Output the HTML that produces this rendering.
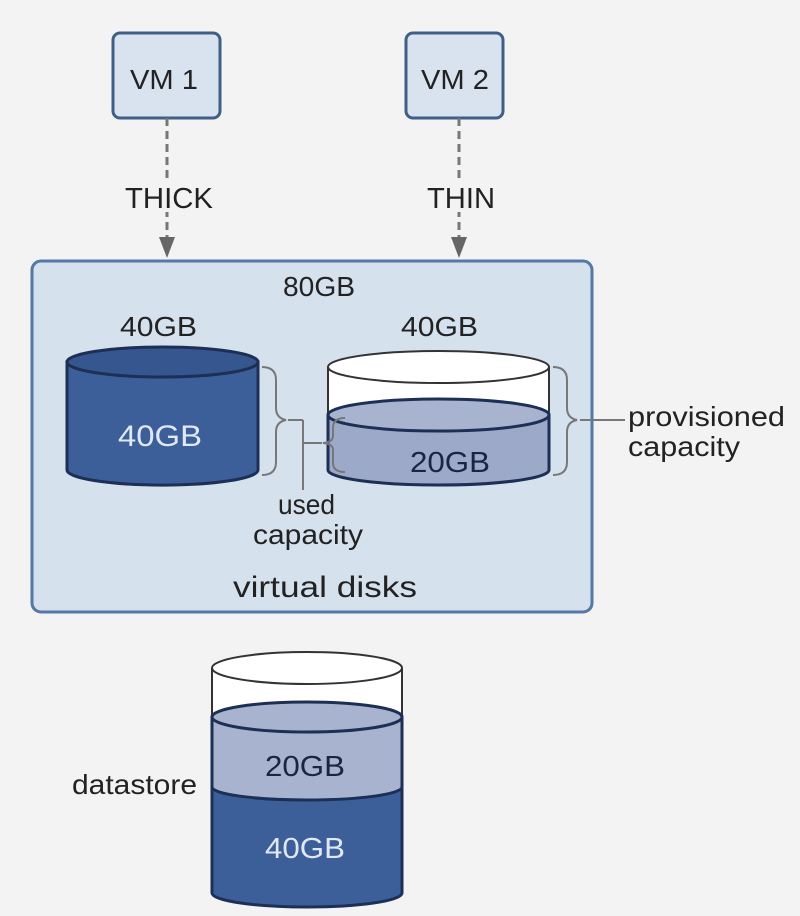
<!DOCTYPE html>
<html><head><style>html,body{margin:0;padding:0;background:#f3f3f3}svg{display:block}</style></head>
<body>
<svg width="800" height="916" viewBox="0 0 800 916" xmlns="http://www.w3.org/2000/svg" font-family="Liberation Sans, Arial, sans-serif">
<rect width="800" height="916" fill="#f3f3f3"/>
<rect x="113" y="33" width="107" height="85" rx="7" fill="#d9e3f0" stroke="#3f5f86" stroke-width="3"/>
<text x="130" y="89" font-size="28" textLength="68" lengthAdjust="spacingAndGlyphs" fill="#222">VM 1</text>
<rect x="406" y="33" width="97" height="85" rx="7" fill="#d9e3f0" stroke="#3f5f86" stroke-width="3"/>
<text x="421" y="89" font-size="28" textLength="68" lengthAdjust="spacingAndGlyphs" fill="#222">VM 2</text>
<g stroke="#777" stroke-width="3" stroke-dasharray="8,5">
<line x1="167" y1="118" x2="167" y2="248"/>
<line x1="459" y1="118" x2="459" y2="248"/>
</g>
<rect x="120" y="180" width="100" height="32" fill="#f3f3f3"/>
<rect x="420" y="180" width="80" height="32" fill="#f3f3f3"/>
<text x="125" y="208" font-size="29" textLength="88" lengthAdjust="spacingAndGlyphs" fill="#222">THICK</text>
<text x="427" y="208" font-size="29" textLength="68" lengthAdjust="spacingAndGlyphs" fill="#222">THIN</text>
<polygon points="159,237 175,237 167,258" fill="#666"/>
<polygon points="451,237 467,237 459,258" fill="#666"/>
<rect x="32" y="261" width="560" height="351" rx="9" fill="#d6e1ee" stroke="#5479a6" stroke-width="3"/>
<text x="283" y="296" font-size="28" textLength="72" lengthAdjust="spacingAndGlyphs" fill="#222">80GB</text>
<text x="120" y="336" font-size="28" textLength="77" lengthAdjust="spacingAndGlyphs" fill="#222">40GB</text>
<text x="401" y="336" font-size="28" textLength="77" lengthAdjust="spacingAndGlyphs" fill="#222">40GB</text>
<path d="M67,362 L67,470 A95,15 0 0 0 258,470 L258,362 Z" fill="#3d5f99" stroke="#1d2f55" stroke-width="3"/>
<ellipse cx="162.5" cy="362" rx="95.5" ry="15" fill="#35568f" stroke="#1d2f55" stroke-width="3"/>
<text x="118" y="446" font-size="30" textLength="84" lengthAdjust="spacingAndGlyphs" fill="#e0e8f5">40GB</text>
<path d="M328,367 L328,470 A110,15 0 0 0 549,470 L549,367" fill="#fff" stroke="#333" stroke-width="2"/>
<path d="M328,415 L328,470 A110.5,15 0 0 0 549,470 L549,415 Z" fill="#9ca9c8" stroke="#1d2f55" stroke-width="3"/>
<ellipse cx="438.5" cy="415" rx="110.5" ry="16" fill="#a8b3d0" stroke="#1d2f55" stroke-width="3"/>
<ellipse cx="438.5" cy="367" rx="110.5" ry="16" fill="#fff" stroke="#333" stroke-width="2"/>
<text x="410" y="472" font-size="29" textLength="80" lengthAdjust="spacingAndGlyphs" fill="#1a2540">20GB</text>
<g fill="none" stroke="#777" stroke-width="2">
<path d="M262,367 Q276,367 276,380 L276,408 Q276,418 286,420 Q276,422 276,432 L276,462 Q276,475 262,475"/>
<line x1="288" y1="420" x2="303" y2="420"/>
<line x1="303" y1="420" x2="303" y2="490"/>
<line x1="303" y1="443" x2="322" y2="443"/>
<path d="M345,418 Q333,418 333,428 L333,436 Q333,442 323,443 Q333,444 333,450 L333,463 Q333,472 345,472"/>
<path d="M553,367 Q567,367 567,380 L567,408 Q567,418 577,420 Q567,422 567,432 L567,462 Q567,475 553,475"/>
<line x1="580" y1="420" x2="625" y2="420"/>
</g>
<text x="278" y="514" font-size="28" textLength="57" lengthAdjust="spacingAndGlyphs" fill="#222">used</text>
<text x="253" y="544" font-size="28" textLength="110" lengthAdjust="spacingAndGlyphs" fill="#222">capacity</text>
<text x="233" y="597" font-size="30" textLength="184" lengthAdjust="spacingAndGlyphs" fill="#222">virtual disks</text>
<text x="628" y="426" font-size="28" textLength="157" lengthAdjust="spacingAndGlyphs" fill="#222">provisioned</text>
<text x="628" y="456" font-size="28" textLength="112" lengthAdjust="spacingAndGlyphs" fill="#222">capacity</text>
<text x="72" y="794" font-size="28" textLength="125" lengthAdjust="spacingAndGlyphs" fill="#222">datastore</text>
<path d="M212,668 L212,893 A95,14 0 0 0 402,893 L402,668" fill="#fff" stroke="#333" stroke-width="2"/>
<path d="M212,717 L212,893 A95,14 0 0 0 402,893 L402,717 Z" fill="#3d5f99" stroke="#1d2f55" stroke-width="3"/>
<path d="M212,717 L212,787 A95,13 0 0 0 402,787 L402,717 Z" fill="#a8b3d0"/>
<path d="M212,787 A95,13 0 0 0 402,787" fill="none" stroke="#1d2f55" stroke-width="3"/>
<ellipse cx="307" cy="717" rx="95" ry="15" fill="#a8b3d0" stroke="#1d2f55" stroke-width="3"/>
<line x1="212" y1="717" x2="212" y2="893" stroke="#1d2f55" stroke-width="3"/>
<line x1="402" y1="717" x2="402" y2="893" stroke="#1d2f55" stroke-width="3"/>
<ellipse cx="307" cy="668" rx="95" ry="16" fill="#fff" stroke="#333" stroke-width="2"/>
<text x="265" y="776" font-size="29" textLength="80" lengthAdjust="spacingAndGlyphs" fill="#1a2540">20GB</text>
<text x="265" y="858" font-size="29" textLength="80" lengthAdjust="spacingAndGlyphs" fill="#e0e8f5">40GB</text>
</svg>
</body></html>
